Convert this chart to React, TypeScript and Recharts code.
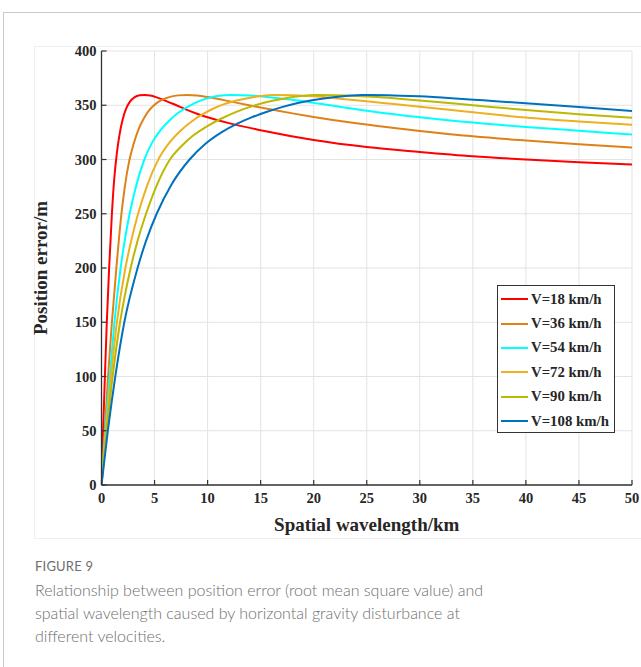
import { LineChart, Line, XAxis, YAxis, CartesianGrid, Legend } from "recharts";

// spatial wavelength (km) / position error (m) per curve
const V18_X = [0, 0.15, 0.32, 0.5, 0.72, 0.98, 1.2, 1.45, 1.7, 2.0, 2.35, 2.7, 3.1, 3.6, 4.07, 4.6, 5.2, 6, 7, 8, 9, 10, 12, 15, 20, 25, 30, 35, 40, 45, 50];
const V18_Y = [0, 50, 100, 150, 200, 250, 282, 306, 323, 337, 347.5, 353.5, 357.3, 359.2, 359.5, 359, 357.3, 354.3, 350.2, 346, 342.2, 339, 333.5, 327, 318, 311.5, 307, 303, 300, 297.5, 295.5];

const V36_X = [0, 0.3, 0.62, 0.98, 1.4, 1.88, 2.2, 2.6, 3.0, 3.5, 4.0, 4.5, 5.0, 5.6, 6.3, 7.2, 8.07, 9, 10, 11, 12, 14, 16, 18, 20, 23, 26, 30, 35, 40, 45, 50];
const V36_Y = [0, 50, 100, 150, 200, 250, 275, 298, 313.5, 328, 338, 345.5, 350.5, 354.5, 357.3, 359.1, 359.5, 359, 357.6, 355.8, 353.8, 349.8, 346, 342.5, 339.2, 334.7, 330.8, 326.3, 321.4, 317.5, 314, 311];

const V54_X = [0, 0.36, 0.78, 1.22, 1.8, 2.2, 2.65, 3.3, 4.0, 4.8, 5.6, 6.4, 7.3, 8.3, 9.2, 10.2, 11.1, 12.1, 14, 16, 18, 20.6, 23, 26, 30, 35, 40, 45, 50];
const V54_Y = [0, 50, 100, 150, 200, 226, 250, 277, 299, 316, 327.5, 336, 343.5, 349.5, 353.8, 357, 358.8, 359.5, 359, 357.2, 355, 351.3, 347.8, 343.6, 339, 334, 330, 326.5, 323];

const V72_X = [0, 0.42, 0.9, 1.45, 2.25, 2.8, 3.45, 4.3, 5.3, 6.4, 7.5, 8.5, 9.5, 10.5, 11.5, 12.7, 14, 15, 16.2, 18, 20, 22, 24, 26.3, 30, 35, 40, 45, 50];
const V72_Y = [0, 50, 100, 150, 200, 225, 250, 276, 299, 315.5, 327, 335, 341.5, 346.8, 350.8, 354.3, 357, 358.5, 359.5, 359.2, 358.2, 356.5, 354.6, 352.3, 348.6, 343.5, 338.6, 335, 332];

const V90_X = [0, 0.49, 1.05, 1.75, 2.75, 3.4, 4.2, 5.2, 6.45, 7.5, 8.7, 10.1, 11.3, 12.6, 14, 15.4, 17, 18.6, 20.3, 22, 24, 26, 28, 30, 35, 40, 45, 50];
const V90_Y = [0, 50, 100, 150, 200, 225, 250, 276, 300, 312, 322.5, 331.5, 337.8, 343.5, 348.5, 352.5, 355.8, 358.2, 359.5, 359.3, 358.6, 357.5, 356, 354.4, 350, 345.6, 341.8, 338.5];

const V108_X = [0, 0.6, 1.3, 2.15, 3.4, 4.2, 5.2, 6.6, 8.3, 9.8, 11.3, 12.8, 14.2, 15.6, 17, 18.5, 20, 22, 24.5, 27, 30, 33, 36, 40, 45, 50];
const V108_Y = [0, 50, 100, 150, 200, 225, 250, 277, 300, 314.5, 325, 333, 339, 344, 348.3, 352, 354.8, 357.5, 359.5, 359.3, 358.2, 356.5, 354.5, 351.8, 348.3, 344.7];

const X_TICKS = [0, 5, 10, 15, 20, 25, 30, 35, 40, 45, 50];
const Y_TICKS = [0, 50, 100, 150, 200, 250, 300, 350, 400];

const SERIES = [
  { name: "V=18 km/h", color: "#FF0000", xs: V18_X, ys: V18_Y },
  { name: "V=36 km/h", color: "#DE8218", xs: V36_X, ys: V36_Y },
  { name: "V=54 km/h", color: "#00FFFF", xs: V54_X, ys: V54_Y },
  { name: "V=72 km/h", color: "#EDB120", xs: V72_X, ys: V72_Y },
  { name: "V=90 km/h", color: "#BDB800", xs: V90_X, ys: V90_Y },
  { name: "V=108 km/h", color: "#0072BD", xs: V108_X, ys: V108_Y },
];

const FRAME = "#333";
const SERIF = "'Liberation Serif', 'Times New Roman', serif";
const TICK_FONT = { fontFamily: SERIF, fontWeight: 700, fontSize: 14.5, fill: "#262626" };
const TITLE_FONT = { fontFamily: SERIF, fontWeight: 700, fontSize: 19, fill: "#262626" };

const BottomTick = ({ x, y, payload }: any) => (
  <g>
    <line x1={x} x2={x} y1={y} y2={y - 5} stroke={FRAME} strokeWidth={1.2} />
    <text x={x} y={y + 18} textAnchor="middle" {...TICK_FONT}>{payload.value}</text>
  </g>
);

const LeftTick = ({ x, y, payload }: any) => (
  <g>
    <line x1={x} x2={x + 5} y1={y} y2={y} stroke={FRAME} strokeWidth={1.2} />
    <text x={x - 5} y={y + 5} textAnchor="end" {...TICK_FONT}>{payload.value}</text>
  </g>
);

const TopTick = ({ x, y }: any) => <line x1={x} x2={x} y1={y} y2={y + 5} stroke={FRAME} strokeWidth={1.2} />;
const RightTick = ({ x, y }: any) => <line x1={x} x2={x - 5} y1={y} y2={y} stroke={FRAME} strokeWidth={1.2} />;

function LegendBox() {
  return (
    <div style={{ border: `1px solid ${FRAME}`, background: "#fff", width: 116, height: 145, paddingTop: 1 }}>
      {SERIES.map((s) => (
        <div key={s.name} style={{ display: "flex", alignItems: "center", height: 24.4 }}>
          <div style={{ width: 27, height: 2, background: s.color, marginLeft: 3, marginRight: 3 }} />
          <span style={{ fontFamily: SERIF, fontWeight: 700, fontSize: 14.8, color: "#262626", whiteSpace: "nowrap" }}>
            {s.name}
          </span>
        </div>
      ))}
    </div>
  );
}

export default function App() {
  return (
    <div style={{ position: "absolute", left: 0, top: 0, width: 641, height: 667, background: "#fff", overflow: "hidden" }}>
      <div style={{ position: "absolute", left: 3, top: 12, width: 700, height: 700, borderTop: "1px solid #c8c8c8", borderLeft: "1px solid #c8c8c8" }} />
      <div style={{ position: "absolute", left: 34, top: 46, width: 640, height: 491, border: "1px solid #efefef" }} />
      <div style={{ position: "absolute", left: 20, top: 40 }}>
        <LineChart width={621} height={497} margin={{ top: 11, right: 9, left: 0, bottom: 0 }}>
          <CartesianGrid stroke="#e3e3e3" strokeWidth={1} />
          <XAxis dataKey="x" type="number" domain={[0, 50]} ticks={X_TICKS} height={52}
                 axisLine={{ stroke: FRAME, strokeWidth: 1.3 }} tickLine={false} tickSize={0} tickMargin={0}
                 tick={<BottomTick />} interval={0} allowDataOverflow
                 label={{ content: ({ viewBox }: any) => (
                   <text x={viewBox.x + viewBox.width / 2} y={viewBox.y + 46} textAnchor="middle" {...TITLE_FONT}>
                     Spatial wavelength/km
                   </text>
                 ) }} />
          <XAxis xAxisId="top" orientation="top" type="number" domain={[0, 50]} ticks={X_TICKS} height={0}
                 axisLine={{ stroke: FRAME, strokeWidth: 1.3 }} tickLine={false} tickSize={0} tickMargin={0}
                 tick={<TopTick />} interval={0} allowDataOverflow />
          <YAxis type="number" domain={[0, 400]} ticks={Y_TICKS} width={81.5}
                 axisLine={{ stroke: FRAME, strokeWidth: 1.3 }} tickLine={false} tickSize={0} tickMargin={0}
                 tick={<LeftTick />} interval={0} allowDataOverflow
                 label={{ content: ({ viewBox }: any) => {
                   const cx = viewBox.x + 23;
                   const cy = viewBox.y + viewBox.height / 2;
                   return (
                     <text x={cx} y={cy} textAnchor="middle" transform={`rotate(-90, ${cx}, ${cy})`} dominantBaseline="middle" {...TITLE_FONT}>
                       Position error/m
                     </text>
                   );
                 } }} />
          <YAxis yAxisId="right" orientation="right" type="number" domain={[0, 400]} ticks={Y_TICKS} width={0}
                 axisLine={{ stroke: FRAME, strokeWidth: 1.3 }} tickLine={false} tickSize={0} tickMargin={0}
                 tick={<RightTick />} interval={0} allowDataOverflow />
          {SERIES.map((s) => (
            <Line key={s.name} name={s.name} type="monotone" dataKey="y"
                  data={s.xs.map((x, i) => ({ x, y: s.ys[i] }))}
                  stroke={s.color} strokeWidth={2} dot={false} isAnimationActive={false} />
          ))}
          <Legend layout="horizontal" verticalAlign="middle" align="center" content={() => <LegendBox />}
                  wrapperStyle={{ left: 477, top: 245, width: 118, height: 147 }} />
        </LineChart>
      </div>
      <div style={{ position: "absolute", left: 35, top: 558, fontFamily: "Lato, 'Open Sans', sans-serif", color: "#6e6e6e" }}>
        <div style={{ fontSize: 13, letterSpacing: 0.2, marginBottom: 4 }}>FIGURE 9</div>
        <div style={{ fontSize: 16, lineHeight: "23px", fontWeight: 300 }}>
          Relationship between position error (root mean square value) and<br />
          spatial wavelength caused by horizontal gravity disturbance at<br />
          different velocities.
        </div>
      </div>
    </div>
  );
}
